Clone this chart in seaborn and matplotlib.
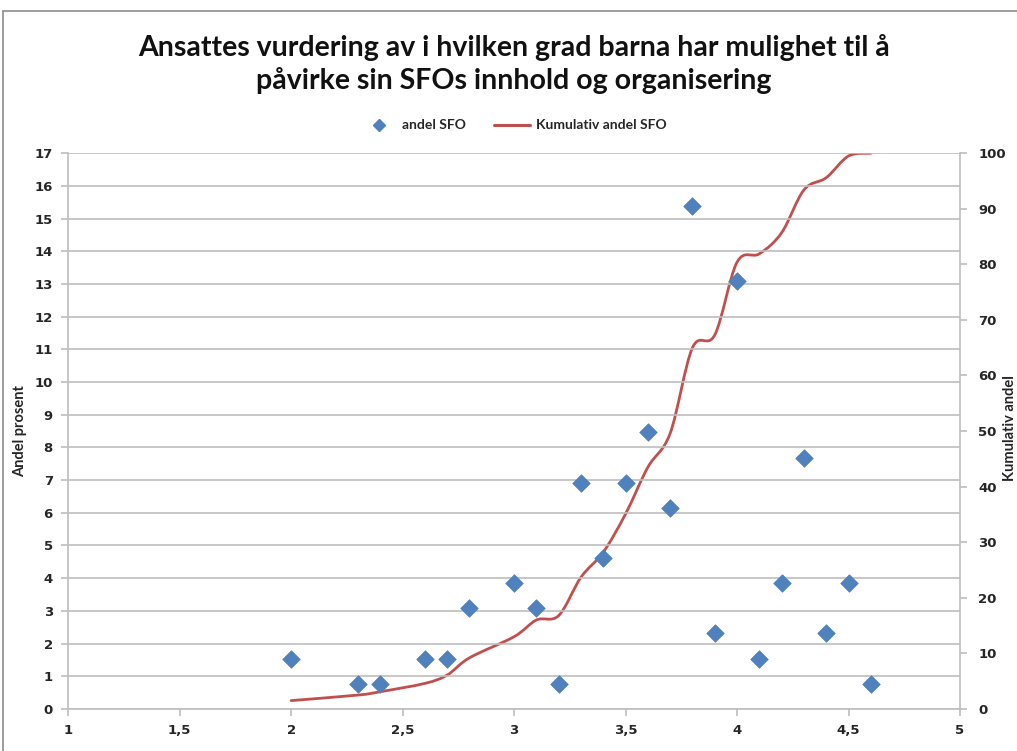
import numpy as np
import pandas as pd
import matplotlib.pyplot as plt
import seaborn as sns
from matplotlib.path import Path
from matplotlib.patches import PathPatch, Rectangle
from matplotlib.lines import Line2D

# values
score = [2.0, 2.3, 2.4, 2.6, 2.7, 2.8, 3.0, 3.1, 3.2, 3.3, 3.4, 3.5,
         3.6, 3.7, 3.8, 3.9, 4.0, 4.1, 4.2, 4.3, 4.4, 4.5, 4.6]
andel = [1.54, 0.77, 0.77, 1.54, 1.54, 3.08, 3.85, 3.08, 0.77, 6.92, 4.62, 6.92,
         8.46, 6.15, 15.38, 2.31, 13.08, 1.54, 3.85, 7.69, 2.31, 3.85, 0.77]
kumulativ = [1.5, 2.5, 3.1, 4.6, 6.1, 9.2, 13.0, 16.0, 16.8, 23.7, 28.2, 35.1,
             43.5, 49.6, 65.0, 67.3, 80.4, 81.9, 85.7, 93.4, 95.6, 99.5, 100.0]
x_ticks = [1, 1.5, 2, 2.5, 3, 3.5, 4, 4.5, 5]
x_labels = ["1", "1,5", "2", "2,5", "3", "3,5", "4", "4,5", "5"]

df = pd.DataFrame({"score": score, "andel": andel, "kumulativ": kumulativ})

sns.set_style("white")
plt.rcParams['font.family'] = ['Lato', 'DejaVu Sans']

blue = "#4F81BD"
red = "#C0504D"
grid_c = "#BEBEBE"

fig = plt.figure(figsize=(10.17, 7.51), dpi=100)
ax = fig.add_axes([0.067, 0.056, 0.877, 0.740])

# horizontal gridlines on the left axis
for v in range(0, 18):
    ax.axhline(v, color=grid_c, lw=1.2, zorder=0)

sns.scatterplot(data=df, x="score", y="andel", marker="D", s=80, color=blue,
                edgecolor=blue, linewidth=0.5, ax=ax, zorder=3)

ax.set_xlim(1, 5)
ax.set_ylim(0, 17)
ax.set_xticks(x_ticks)
ax.set_xticklabels(x_labels)
ax.set_yticks(range(0, 18))
ax.set_xlabel("")
ax.set_ylabel("Andel prosent", fontsize=10.5, fontweight="bold", labelpad=5)
for lab in ax.get_xticklabels() + ax.get_yticklabels():
    lab.set_family("DejaVu Sans")
    lab.set_fontweight("bold")
    lab.set_fontsize(9.5)
ax.tick_params(axis="both", direction="out", length=5, color=grid_c, width=1.2, pad=6)
ax.tick_params(axis="x", bottom=True)
ax.tick_params(axis="y", left=True)
for side in ["top", "right"]:
    ax.spines[side].set_visible(False)
for side in ["left", "bottom"]:
    ax.spines[side].set_color(grid_c)
    ax.spines[side].set_linewidth(1.2)

ax2 = ax.twinx()
ax2.set_ylim(0, 100)
ax2.set_yticks(range(0, 101, 10))
for lab in ax2.get_yticklabels():
    lab.set_family("DejaVu Sans")
    lab.set_fontweight("bold")
    lab.set_fontsize(9.5)
ax2.tick_params(axis="y", direction="out", length=5, color=grid_c, width=1.2, pad=8)
for side in ["top", "left", "bottom"]:
    ax2.spines[side].set_visible(False)
ax2.spines["right"].set_color(grid_c)
ax2.spines["right"].set_linewidth(1.2)

# smoothed cumulative line (Catmull-Rom as cubic Bezier segments)
pts = np.column_stack([df["score"], df["kumulativ"]])
ext = np.vstack([pts[0], pts, pts[-1]])
verts = [tuple(pts[0])]
codes = [Path.MOVETO]
for i in range(1, len(ext) - 2):
    p0, p1, p2, p3 = ext[i - 1], ext[i], ext[i + 1], ext[i + 2]
    c1 = p1 + (p2 - p0) / 6.0
    c2 = p2 - (p3 - p1) / 6.0
    verts += [tuple(c1), tuple(c2), tuple(p2)]
    codes += [Path.CURVE4] * 3
ax2.add_patch(PathPatch(Path(verts, codes), facecolor="none", edgecolor=red,
                        lw=2.0, zorder=2, capstyle="round"))
ax.set_zorder(ax2.get_zorder() + 1)
ax.patch.set_visible(False)

# right axis title, pushed to the chart edge as in the original
fig.text(0.993, 0.43, "Kumulativ andel", rotation=90, ha="center", va="center",
         fontsize=10.5, fontweight="bold")

fig.text(0.505, 0.915, "Ansattes vurdering av i hvilken grad barna har mulighet til å\n"
         "påvirke sin SFOs innhold og organisering", ha="center", va="center",
         fontsize=20.5, fontweight="bold", linespacing=1.25, color="#111111")

handles = [Line2D([], [], marker="D", color=blue, ls="none", markersize=6),
           Line2D([], [], color=red, lw=2.2)]
fig.legend(handles, ["andel SFO", "Kumulativ andel SFO"], loc="center",
           bbox_to_anchor=(0.505, 0.833), ncol=2, frameon=False,
           prop={"size": 10, "weight": "bold"}, handlelength=2.6,
           columnspacing=2.0, handletextpad=0.4)

fig.add_artist(Rectangle((0.003, -0.01), 1.1, 0.995, transform=fig.transFigure,
                         fill=False, edgecolor="#8C8C8C", lw=1.2))

fig.savefig("out.png", dpi=100)
